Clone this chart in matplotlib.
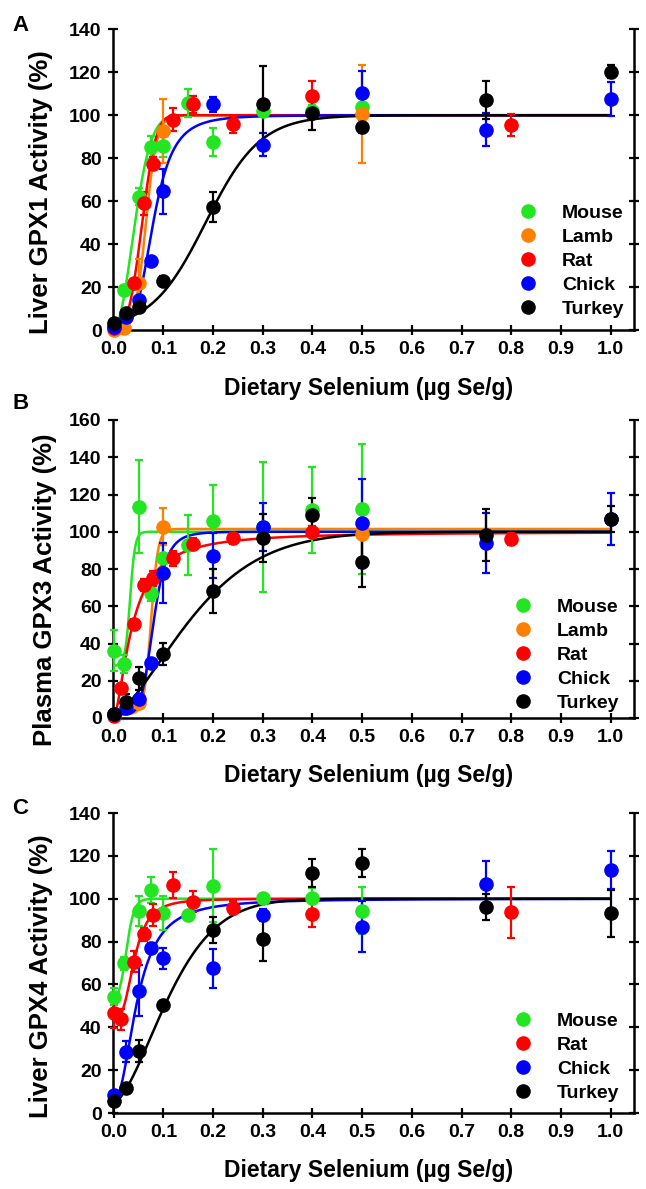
import numpy as np
import matplotlib
matplotlib.use('Agg')
import matplotlib.pyplot as plt
from matplotlib.lines import Line2D

plt.rcParams['font.family'] = ['Liberation Sans', 'DejaVu Sans']
plt.rcParams['font.weight'] = 'bold'

# ---------------- colours ----------------
species_colors = {'Mouse': '#22e622', 'Lamb': '#ff8000', 'Rat': '#ff0000',
                  'Chick': '#0000ff', 'Turkey': '#000000'}

# ---------------- Panel A : Liver GPX1 ----------------
A_mouse_x = [0, 0.02, 0.05, 0.075, 0.1, 0.15, 0.2, 0.3, 0.4, 0.5]
A_mouse_y = [2, 18.7, 62, 85, 85.5, 105.8, 87.6, 102, 101.9, 103.9]
A_mouse_e = [1, 2, 4, 5.5, 5, 6.5, 6.5, 2, 3, 2]
A_lamb_x = [0, 0.02, 0.05, 0.1, 0.5]
A_lamb_y = [0, 1, 22, 92.6, 100.6]
A_lamb_e = [1, 1, 11, 15, 23]
A_rat_x = [0, 0.04, 0.06, 0.08, 0.12, 0.16, 0.24, 0.4, 0.8]
A_rat_y = [1, 21.8, 59, 77.5, 98, 105, 95.7, 108.9, 95.4]
A_rat_e = [1, 2, 5.4, 3, 5.4, 4, 4, 6.8, 5]
A_chick_x = [0, 0.025, 0.05, 0.075, 0.1, 0.2, 0.3, 0.5, 0.75, 1.0]
A_chick_y = [1.5, 6, 14, 31.9, 64.6, 105, 86.3, 110.4, 93.3, 107.6]
A_chick_e = [1, 1, 2, 2, 10.5, 3.5, 5.4, 10, 7.6, 8]
A_turkey_x = [0, 0.025, 0.05, 0.1, 0.2, 0.3, 0.4, 0.5, 0.75, 1.0]
A_turkey_y = [3.1, 7.8, 10.9, 23, 57.2, 105, 101.1, 94.6, 106.9, 120.2]
A_turkey_e = [1, 1, 1, 2, 7, 18, 7.8, 3, 8.8, 3]

# ---------------- Panel B : Plasma GPX3 ----------------
B_mouse_x = [0, 0.02, 0.05, 0.075, 0.1, 0.15, 0.2, 0.3, 0.4, 0.5]
B_mouse_y = [36, 29, 113.5, 67, 85.7, 93, 106, 102.7, 111.7, 112.2]
B_mouse_e = [11, 5, 25, 4, 7, 16, 19, 35, 23, 35]
B_lamb_x = [0, 0.05, 0.1, 0.5]
B_lamb_y = [2, 8, 102.7, 99]
B_lamb_e = [1, 2, 10, 16]
B_rat_x = [0, 0.015, 0.04, 0.06, 0.08, 0.12, 0.16, 0.24, 0.4, 0.8]
B_rat_y = [1, 16, 50.3, 71.4, 75, 85.7, 93.4, 96.5, 100, 96.1]
B_rat_e = [1, 2, 3, 3, 4, 4, 3, 3, 3, 3]
B_chick_x = [0, 0.025, 0.05, 0.075, 0.1, 0.2, 0.3, 0.5, 0.75, 1.0]
B_chick_y = [2, 5.2, 10, 29.7, 77.7, 87.2, 102.7, 104.5, 93.8, 107]
B_chick_e = [1, 2, 2, 2, 16, 12, 13, 24, 16, 14]
B_turkey_x = [0, 0.025, 0.05, 0.1, 0.2, 0.3, 0.4, 0.5, 0.75, 1.0]
B_turkey_y = [2, 8.8, 21.3, 34.4, 68.2, 96.5, 109, 84, 98.3, 106.6]
B_turkey_e = [1, 4, 6, 6, 12, 13, 9, 13.5, 14, 7]

# ---------------- Panel C : Liver GPX4 ----------------
C_mouse_x = [0, 0.02, 0.05, 0.075, 0.1, 0.15, 0.2, 0.3, 0.4, 0.5]
C_mouse_y = [54.3, 69.8, 94.4, 104, 93.2, 92.4, 106, 100.2, 100.2, 94.4]
C_mouse_e = [4, 3, 7, 6, 8, 2, 17, 2, 5, 11]
C_rat_x = [0, 0.015, 0.04, 0.06, 0.08, 0.12, 0.16, 0.24, 0.4, 0.8]
C_rat_y = [46.5, 43.7, 70.6, 83.5, 92.4, 106.4, 98.6, 95.8, 92.9, 93.7]
C_rat_e = [7, 5, 5, 3, 5, 6, 5, 3, 6, 12]
C_chick_x = [0, 0.025, 0.05, 0.075, 0.1, 0.2, 0.3, 0.5, 0.75, 1.0]
C_chick_y = [8.4, 28.6, 57.1, 77.2, 72.2, 67.5, 92.4, 87, 106.7, 113.4]
C_chick_e = [1, 5, 12, 2, 5, 9, 3, 12, 11, 9]
C_turkey_x = [0, 0.025, 0.05, 0.1, 0.2, 0.3, 0.4, 0.5, 0.75, 1.0]
C_turkey_y = [5.8, 11.5, 29, 50.5, 85.4, 81, 112.2, 116.5, 96.3, 93.2]
C_turkey_e = [1, 1, 5, 2, 6, 10, 6.5, 6.5, 6, 11]

# fitted-curve parameters: (kind, bottom, top, p1, p2)
# L: logistic (mid, width); H: Hill (k, n); W: Weibull (k, n)
A_fits = {'Mouse': ('W', 1, 100, 0.052, 2.0), 'Lamb': ('L', 0, 100, 0.065, 0.011),
          'Rat': ('W', 0.5, 100, 0.065, 3.0), 'Chick': ('H', 1, 100, 0.08, 4.0),
          'Turkey': ('L', 0, 100, 0.185, 0.055)}
B_fits = {'Mouse': ('L', 28, 100, 0.033, 0.005), 'Lamb': ('L', 2, 101.5, 0.075, 0.007),
          'Rat': ('H', 0, 100, 0.038, 1.6), 'Chick': ('H', 2, 100, 0.08, 6.0),
          'Turkey': ('W', 2, 100, 0.19, 1.5)}
C_fits = {'Mouse': ('L', 50, 100, 0.025, 0.008), 'Rat': ('H', 44, 100, 0.042, 3.0),
          'Chick': ('H', 6, 100, 0.048, 2.2), 'Turkey': ('W', 5, 100, 0.135, 1.6)}

x_ticks = [0.0, 0.1, 0.2, 0.3, 0.4, 0.5, 0.6, 0.7, 0.8, 0.9, 1.0]


def curve(xx, p):
    kind, b, t, p1, p2 = p
    if kind == 'L':
        f = 1.0 / (1.0 + np.exp(-(xx - p1) / p2))
    elif kind == 'H':
        f = xx ** p2 / (p1 ** p2 + xx ** p2)
    else:
        f = 1.0 - np.exp(-(xx / p1) ** p2)
    return b + (t - b) * f


W, H = 646, 1189
fig = plt.figure(figsize=(W / 100, H / 100), dpi=100)

panels = [
    dict(letter='A', ylabel='Liver GPX1 Activity (%)', ymax=140, top=29.3, bottom=330,
         data={'Mouse': (A_mouse_x, A_mouse_y, A_mouse_e), 'Lamb': (A_lamb_x, A_lamb_y, A_lamb_e),
               'Rat': (A_rat_x, A_rat_y, A_rat_e), 'Chick': (A_chick_x, A_chick_y, A_chick_e),
               'Turkey': (A_turkey_x, A_turkey_y, A_turkey_e)},
         fits=A_fits, ylab_pos=(-0.115, 0.46), leg=(0.778, 0.04), letter_y=15),
    dict(letter='B', ylabel='Plasma GPX3 Activity (%)', ymax=160, top=420, bottom=718,
         data={'Mouse': (B_mouse_x, B_mouse_y, B_mouse_e), 'Lamb': (B_lamb_x, B_lamb_y, B_lamb_e),
               'Rat': (B_rat_x, B_rat_y, B_rat_e), 'Chick': (B_chick_x, B_chick_y, B_chick_e),
               'Turkey': (B_turkey_x, B_turkey_y, B_turkey_e)},
         fits=B_fits, ylab_pos=(-0.107, 0.43), leg=(0.768, 0.02), letter_y=393),
    dict(letter='C', ylabel='Liver GPX4 Activity (%)', ymax=140, top=813, bottom=1113,
         data={'Mouse': (C_mouse_x, C_mouse_y, C_mouse_e), 'Rat': (C_rat_x, C_rat_y, C_rat_e),
               'Chick': (C_chick_x, C_chick_y, C_chick_e),
               'Turkey': (C_turkey_x, C_turkey_y, C_turkey_e)},
         fits=C_fits, ylab_pos=(-0.115, 0.455), leg=(0.768, 0.037), letter_y=798),
]

left_px, right_px = 112.7, 634.0
xmin, xmax = -0.002, 1.047

for p in panels:
    ax = fig.add_axes([left_px / W, 1 - p['bottom'] / H,
                       (right_px - left_px) / W, (p['bottom'] - p['top']) / H])
    xx = np.linspace(0, 1.0, 600)
    for name, (x, y, e) in p['data'].items():
        c = species_colors[name]
        ax.plot(xx, curve(xx, p['fits'][name]), color=c, lw=1.8, zorder=2, clip_on=False)
        ax.errorbar(x, y, yerr=e, fmt='o', color=c, ms=9.5, elinewidth=1.6,
                    capsize=3.2, capthick=1.6, zorder=3, clip_on=False)
    ax.set_xlim(xmin, xmax)
    ax.set_ylim(0, p['ymax'])
    ax.set_xticks(x_ticks)
    ax.set_xticklabels([f'{t:.1f}' for t in x_ticks])
    ax.set_yticks(np.arange(0, p['ymax'] + 1, 20))
    for s in ['left', 'bottom', 'right']:
        ax.spines[s].set_linewidth(1.8)
    ax.spines['top'].set_visible(False)
    ax.tick_params(axis='both', direction='inout', length=7, width=1.6,
                   labelsize=14, pad=4.5)
    ax.tick_params(axis='y', right=True, labelright=False)
    for lab in ax.get_xticklabels() + ax.get_yticklabels():
        lab.set_fontweight('bold')
    ax.set_ylabel(p['ylabel'], fontsize=18.5, fontweight='bold')
    ax.yaxis.set_label_coords(*p['ylab_pos'])
    ax.set_xlabel('Dietary Selenium (µg Se/g)', fontsize=16.5, fontweight='bold')
    ax.xaxis.set_label_coords(0.49, -0.155)

    handles = [Line2D([], [], marker='o', ls='none', color=species_colors[n], ms=9.5)
               for n in p['data']]
    ax.legend(handles, list(p['data'].keys()), loc='lower left',
              bbox_to_anchor=p['leg'], frameon=False, borderpad=0, borderaxespad=0,
              handlelength=1.0, handletextpad=1.25, labelspacing=0.33,
              prop={'size': 14, 'weight': 'bold'})

    fig.text(12 / W, 1 - p['letter_y'] / H, p['letter'], fontsize=16,
             fontweight='bold', va='top', ha='left')

fig.savefig('out.png', dpi=100)
